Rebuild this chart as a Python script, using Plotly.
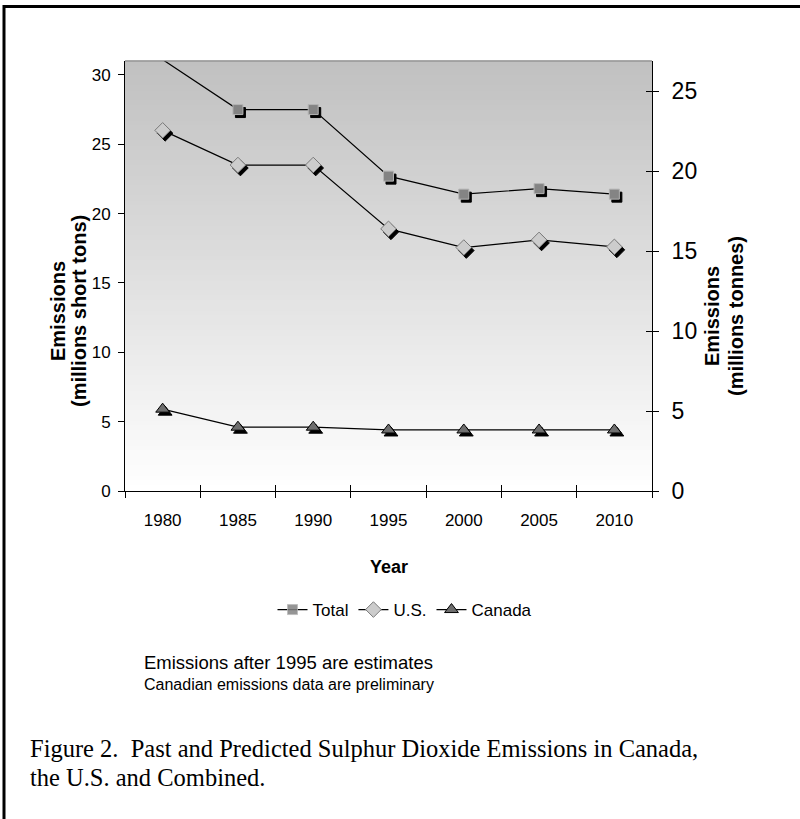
import plotly.graph_objects as go

# ---- data ----
years = ["1980", "1985", "1990", "1995", "2000", "2005", "2010"]
total = [31.1, 27.5, 27.5, 22.7, 21.4, 21.8, 21.4]
us = [26.0, 23.5, 23.5, 18.9, 17.55, 18.1, 17.6]
canada = [5.9, 4.6, 4.6, 4.4, 4.4, 4.4, 4.4]
left_ticks = [0, 5, 10, 15, 20, 25, 30]
right_ticks = [0, 5, 10, 15, 20, 25]
YMAX = 31.0
Y2MAX = 26.9

# ---- geometry ----
W, H = 800, 819
L, R, T, B = 125, 148, 61, 328
PW = W - L - R
PH = H - T - B


def px(x):
    return (x - L) / PW


def py(y):
    return (H - B - y) / PH


n = len(years)
pos = list(range(n))
bounds = [i - 0.5 for i in range(n + 1)]
XR = [-0.5, n - 0.5]
dxv = (XR[1] - XR[0]) / PW * 2.5   # shadow offset right 2.5px
dyv = YMAX / PH * 3.0              # shadow offset down 3px

FONT = "Arial, Liberation Sans, sans-serif"

series = [
    ("Total", total, dict(symbol="square", size=10, color="#848484", line=dict(color="#b4b4b4", width=1))),
    ("U.S.", us, dict(symbol="diamond", size=12, color="#cccccc", line=dict(color="#7a7a7a", width=1))),
    ("Canada", canada, dict(symbol="triangle-up", size=12, color="#6e6e6e", line=dict(color="#000000", width=1))),
]

fig = go.Figure()

# shadows on the (hidden, shifted) base axes -> drawn beneath everything
for name, vals, mk in series:
    op = [0 if v > YMAX else 1 for v in vals]
    fig.add_trace(go.Scatter(
        x=pos, y=vals, mode="markers", xaxis="x", yaxis="y", showlegend=False,
        hoverinfo="skip",
        marker=dict(symbol=mk["symbol"], size=mk["size"], color="black", opacity=op,
                    line=dict(color="black", width=1)),
    ))

# main series on the visible axes
for name, vals, mk in series:
    op = [0 if v > YMAX else 1 for v in vals]
    m = dict(mk)
    m["opacity"] = op
    fig.add_trace(go.Scatter(
        x=pos, y=vals, name=name, mode="lines+markers", xaxis="x2", yaxis="y2",
        line=dict(color="black", width=1.2), marker=m,
    ))

# empty traces so that the right axis and the crossing-tick axes are drawn
fig.add_trace(go.Scatter(x=[None], y=[None], xaxis="x2", yaxis="y3", showlegend=False, hoverinfo="skip"))
fig.add_trace(go.Scatter(x=[None], y=[None], xaxis="x4", yaxis="y4", showlegend=False, hoverinfo="skip"))

# gradient background bands
shapes = []
NB = 86
for i in range(NB):
    c = int(round(192 + 63 * (i + 0.5) / NB))
    shapes.append(dict(type="rect", xref="x domain", yref="y domain", x0=0, x1=1,
                       y0=1 - (i + 1) / NB, y1=1 - i / NB + 0.002,
                       fillcolor=f"rgb({c},{c},{c})", line=dict(width=0), layer="below"))
# top border of plot area
shapes.append(dict(type="line", xref="x domain", yref="y domain", x0=0, x1=1, y0=1, y1=1,
                   line=dict(color="#808080", width=1)))
# outer frame (top + left)
shapes.append(dict(type="path", xref="paper", yref="paper",
                   path=f"M {px(4)} {py(830)} L {px(4)} {py(6.5)} L {px(810)} {py(6.5)}",
                   line=dict(color="black", width=3)))

CAP = "Liberation Serif, serif"
annotations = [
    dict(text="<b>Emissions</b>", x=px(58), y=py(311), textangle=-90, font=dict(size=20, family=FONT, color="black")),
    dict(text="<b>(millions short tons)</b>", x=px(79), y=py(311), textangle=-90, font=dict(size=20, family=FONT, color="black")),
    dict(text="<b>Emissions</b>", x=px(712), y=py(316), textangle=-90, font=dict(size=20, family=FONT, color="black")),
    dict(text="<b>(millions tonnes)</b>", x=px(736), y=py(316), textangle=-90, font=dict(size=20, family=FONT, color="black")),
    dict(text="<b>Year</b>", x=px(389), y=py(567), font=dict(size=18, family=FONT, color="black")),
    dict(text="Emissions after 1995 are estimates", x=px(142), y=py(662), xanchor="left",
         font=dict(size=18.5, family=FONT, color="black")),
    dict(text="Canadian emissions data are preliminary", x=px(142), y=py(684), xanchor="left",
         font=dict(size=16, family=FONT, color="black")),
    dict(text="Figure 2.\u00a0 Past and Predicted Sulphur Dioxide Emissions in Canada,", x=px(28), y=py(748),
         xanchor="left", font=dict(size=24.5, family=CAP, color="black")),
    dict(text="the U.S. and Combined.", x=px(28), y=py(777), xanchor="left",
         font=dict(size=24.5, family=CAP, color="black")),
]
for a in annotations:
    a.setdefault("xref", "paper")
    a.setdefault("yref", "paper")
    a.setdefault("showarrow", False)
    a.setdefault("xanchor", "center")
    a.setdefault("yanchor", "middle")

axis_font = dict(family=FONT, color="black")

fig.update_layout(
    width=W, height=H,
    margin=dict(l=L, r=R, t=T, b=B, pad=0),
    paper_bgcolor="white", plot_bgcolor="white",
    showlegend=True,
    legend=dict(orientation="h", x=px(405), y=py(610), xanchor="center", yanchor="middle",
                font=dict(size=17, family=FONT, color="black"), itemwidth=30,
                bgcolor="rgba(0,0,0,0)", tracegroupgap=0),
    # hidden, shifted base axes carrying the marker shadows
    xaxis=dict(range=[XR[0] - dxv, XR[1] - dxv], visible=False),
    yaxis=dict(range=[dyv, YMAX + dyv], visible=False),
    # visible category axis
    xaxis2=dict(range=XR, overlaying="x", anchor="y2", tickvals=pos, ticktext=years, ticks="",
                showgrid=False, zeroline=False, showline=True, linecolor="black", linewidth=1,
                tickfont=dict(size=17, **axis_font), ticklabelstandoff=14,
                minor=dict(tickvals=bounds, ticks="outside", ticklen=6, tickcolor="black", showgrid=False)),
    # left value axis (short tons)
    yaxis2=dict(range=[0, YMAX], overlaying="y", side="left", anchor="x2", tickvals=left_ticks,
                ticks="outside", ticklen=6, tickcolor="black",
                showgrid=False, zeroline=False, showline=True, linecolor="black", linewidth=1,
                tickfont=dict(size=17, **axis_font), ticklabelstandoff=4),
    # right value axis (tonnes)
    yaxis3=dict(range=[0, Y2MAX], tickvals=right_ticks, overlaying="y", side="right", anchor="x2",
                ticks="outside", ticklen=6, tickcolor="black", showgrid=False, zeroline=False,
                showline=True, linecolor="black", linewidth=1,
                tickfont=dict(size=23, **axis_font), ticklabelstandoff=8),
    # inner halves of the crossing ticks
    xaxis4=dict(range=XR, overlaying="x", tickvals=bounds, ticks="inside", ticklen=6, tickcolor="black",
                showticklabels=False, showgrid=False, zeroline=False, showline=False, anchor="y4"),
    yaxis4=dict(range=[0, Y2MAX], overlaying="y", side="right", anchor="x4", tickvals=right_ticks,
                ticks="inside", ticklen=6, tickcolor="black", showticklabels=False, showgrid=False,
                zeroline=False, showline=False),
    shapes=shapes,
    annotations=annotations,
)

fig.write_html("out.html", config={"displayModeBar": False},
               post_script="document.body.style.margin='0';")
